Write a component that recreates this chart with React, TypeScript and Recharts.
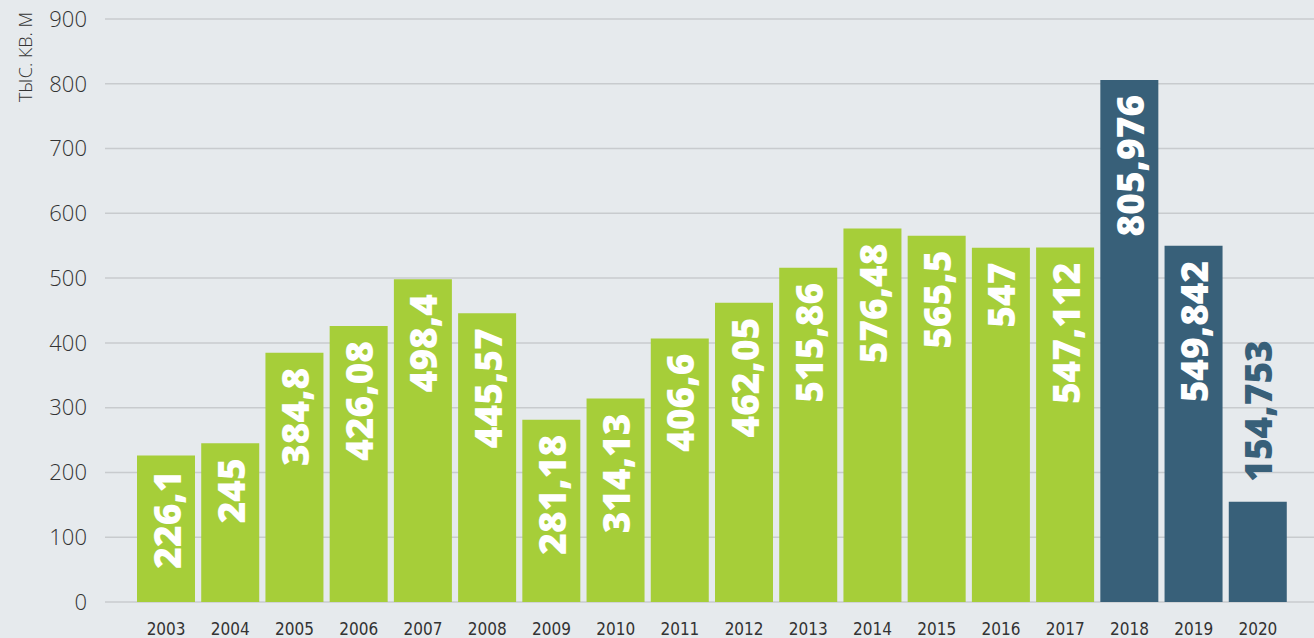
import React from "react";
import {Bar, BarChart, CartesianGrid, Cell, LabelList, XAxis, YAxis} from "recharts";

const years = [
    "2003", "2004", "2005", "2006", "2007", "2008", "2009", "2010", "2011",
    "2012", "2013", "2014", "2015", "2016", "2017", "2018", "2019", "2020",
];
const areas = [
    226.1, 245, 384.8, 426.08, 498.4, 445.57, 281.18, 314.13, 406.6,
    462.05, 515.86, 576.48, 565.5, 547, 547.112, 805.976, 549.842, 154.753,
];
const yTicks = [0, 100, 200, 300, 400, 500, 600, 700, 800, 900];
const unitLabel = "ТЫС. КВ. М";

const GREEN = "#a6ce39";
const BLUE = "#386079";
const BG = "#e6eaed";
const LABEL_FONT = 37;

const data = years.map((year, i) => ({year, value: areas[i]}));

const BarValue = (props: any) => {
    const {x, y, width, height, value} = props;
    const text = String(value).replace(".", ",");
    const cx = x + width / 2;
    const estLength = text.length * LABEL_FONT * 0.56;
    const inside = height > estLength + 30;
    return (
        <text
            transform={`translate(${cx}, ${y}) rotate(-90)`}
            x={inside ? -15 : 20}
            y={0}
            textAnchor={inside ? "end" : "start"}
            dominantBaseline="central"
            fill={inside ? "#ffffff" : BLUE}
            fontFamily="'Open Sans', sans-serif"
            fontWeight={800}
            fontSize={LABEL_FONT}
        >
            {text}
        </text>
    );
};

const UnitLabel = () => (
    <text
        transform="translate(25, 12) rotate(-90)"
        textAnchor="end"
        dominantBaseline="central"
        fill="#333"
        fontFamily="'Open Sans', sans-serif"
        fontWeight={300}
        fontSize={18}
    >
        {unitLabel}
    </text>
);

export default function App() {
    return (
        <div style={{position: "fixed", left: 0, top: 0, width: 1314, height: 638, background: BG}}>
            <BarChart
                width={1314}
                height={638}
                data={data}
                margin={{top: 19, right: 0, bottom: 0, left: 0}}
                barSize={58}
            >
                <CartesianGrid horizontal vertical={false} stroke="#c8cbce" strokeWidth={1.5} />
                <XAxis
                    dataKey="year"
                    height={36}
                    axisLine={false}
                    tickLine={false}
                    padding={{left: 29, right: 24}}
                    tickMargin={15}
                    tick={{fill: "#333", fontSize: 17, fontFamily: "'Liberation Sans Narrow', 'DejaVu Sans Condensed', sans-serif"}}
                    interval={0}
                />
                <YAxis
                    width={105}
                    domain={[0, 900]}
                    ticks={yTicks}
                    axisLine={false}
                    tickLine={false}
                    tickMargin={12}
                    tick={{fill: "#333", fontSize: 22, fontFamily: "'Open Sans', sans-serif", fontWeight: 300}}
                    label={<UnitLabel />}
                />
                <Bar dataKey="value" isAnimationActive={false}>
                    {data.map((d, i) => (
                        <Cell key={`cell-${i}`} fill={Number(d.year) >= 2018 ? BLUE : GREEN} />
                    ))}
                    <LabelList dataKey="value" content={<BarValue />} />
                </Bar>
            </BarChart>
        </div>
    );
}
